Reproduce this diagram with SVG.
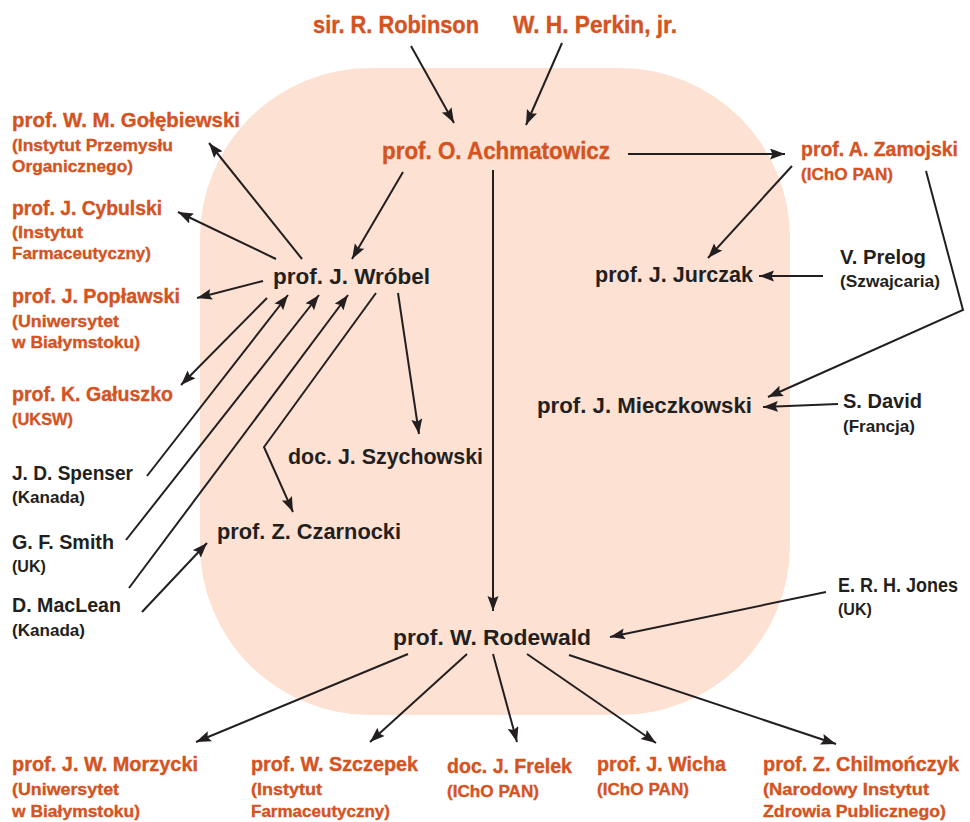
<svg xmlns="http://www.w3.org/2000/svg" width="970" height="822" viewBox="0 0 970 822">
<style>
text{font-family:"Liberation Sans",Arial,sans-serif;font-weight:bold}
.o{fill:#d4531f;stroke:#d4531f;stroke-width:0.35}
.k{fill:#231f20}
.t{font-size:23px}
.m{font-size:22px}
.n{font-size:20px}
.s{font-size:17px}
.c{fill:none;stroke:#231f20;stroke-width:2;marker-end:url(#ah)}
</style>
<defs>
<marker id="ah" markerUnits="userSpaceOnUse" markerWidth="16" markerHeight="12" refX="15" refY="5.5" orient="auto">
<path d="M0,0 L15,5.5 L0,11 L2.5,5.5 z" fill="#231f20"/>
</marker>
</defs>
<rect id="background" x="200" y="68" width="590" height="647" rx="170" ry="170" fill="#fde1d2"/>
<g id="connectors">
<path class="c" d="M411,46 L454,123"/>
<path class="c" d="M562,43 L526,125"/>
<path class="c" d="M628,154 L785,154"/>
<path class="c" d="M493,170 L493,611"/>
<path class="c" d="M403,172 L352,259"/>
<path class="c" d="M792,166 L708,258"/>
<path class="c" d="M926,171 L963,310 L768,397"/>
<path class="c" d="M823,276 L759,276"/>
<path class="c" d="M838,404 L763,407"/>
<path class="c" d="M826,592 L610,637"/>
<path class="c" d="M302,259 L209,143"/>
<path class="c" d="M276,259 L178,212"/>
<path class="c" d="M263,281 L197,298"/>
<path class="c" d="M267,298 L181,385"/>
<path class="c" d="M147,476 L288,295"/>
<path class="c" d="M126,540 L319,295"/>
<path class="c" d="M129,588 L348,295"/>
<path class="c" d="M376,293 L264,447 L293,512"/>
<path class="c" d="M398,293 L419,434"/>
<path class="c" d="M142,612 L207,543"/>
<path class="c" d="M408,654 L196,742"/>
<path class="c" d="M467,654 L370,742"/>
<path class="c" d="M493,654 L517,742"/>
<path class="c" d="M527,654 L656,743"/>
<path class="c" d="M569,655 L836,744"/>
</g>
<g id="robinson"><text class="o t" x="313" y="33" textLength="166" lengthAdjust="spacingAndGlyphs">sir. R. Robinson</text></g>
<g id="perkin"><text class="o t" x="513" y="33" textLength="164" lengthAdjust="spacingAndGlyphs">W. H. Perkin, jr.</text></g>
<g id="achmatowicz"><text class="o t" x="382" y="159" textLength="228" lengthAdjust="spacingAndGlyphs">prof. O. Achmatowicz</text></g>
<g id="golebiewski">
<text class="o n" x="12" y="127" textLength="228" lengthAdjust="spacingAndGlyphs">prof. W. M. Gołębiewski</text>
<text class="o s" x="12" y="151" textLength="161" lengthAdjust="spacingAndGlyphs">(Instytut Przemysłu</text>
<text class="o s" x="12" y="172" textLength="121" lengthAdjust="spacingAndGlyphs">Organicznego)</text>
</g>
<g id="cybulski">
<text class="o n" x="12" y="215" textLength="150" lengthAdjust="spacingAndGlyphs">prof. J. Cybulski</text>
<text class="o s" x="12" y="238" textLength="71" lengthAdjust="spacingAndGlyphs">(Instytut</text>
<text class="o s" x="12" y="259" textLength="139" lengthAdjust="spacingAndGlyphs">Farmaceutyczny)</text>
</g>
<g id="poplawski">
<text class="o n" x="12" y="303" textLength="168" lengthAdjust="spacingAndGlyphs">prof. J. Popławski</text>
<text class="o s" x="12" y="327" textLength="107" lengthAdjust="spacingAndGlyphs">(Uniwersytet</text>
<text class="o s" x="12" y="348" textLength="128" lengthAdjust="spacingAndGlyphs">w Białymstoku)</text>
</g>
<g id="galuszko">
<text class="o n" x="12" y="401" textLength="161" lengthAdjust="spacingAndGlyphs">prof. K. Gałuszko</text>
<text class="o s" x="12" y="425" textLength="61" lengthAdjust="spacingAndGlyphs">(UKSW)</text>
</g>
<g id="zamojski">
<text class="o n" x="801" y="156" textLength="157" lengthAdjust="spacingAndGlyphs">prof. A. Zamojski</text>
<text class="o s" x="801" y="180" textLength="92" lengthAdjust="spacingAndGlyphs">(IChO PAN)</text>
</g>
<g id="morzycki">
<text class="o n" x="12" y="771" textLength="186" lengthAdjust="spacingAndGlyphs">prof. J. W. Morzycki</text>
<text class="o s" x="12" y="795" textLength="107" lengthAdjust="spacingAndGlyphs">(Uniwersytet</text>
<text class="o s" x="12" y="817" textLength="128" lengthAdjust="spacingAndGlyphs">w Białymstoku)</text>
</g>
<g id="szczepek">
<text class="o n" x="251" y="771" textLength="167" lengthAdjust="spacingAndGlyphs">prof. W. Szczepek</text>
<text class="o s" x="251" y="795" textLength="71" lengthAdjust="spacingAndGlyphs">(Instytut</text>
<text class="o s" x="251" y="817" textLength="139" lengthAdjust="spacingAndGlyphs">Farmaceutyczny)</text>
</g>
<g id="frelek">
<text class="o n" x="447" y="773" textLength="125" lengthAdjust="spacingAndGlyphs">doc. J. Frelek</text>
<text class="o s" x="447" y="797" textLength="92" lengthAdjust="spacingAndGlyphs">(IChO PAN)</text>
</g>
<g id="wicha">
<text class="o n" x="597" y="771" textLength="129" lengthAdjust="spacingAndGlyphs">prof. J. Wicha</text>
<text class="o s" x="597" y="795" textLength="92" lengthAdjust="spacingAndGlyphs">(IChO PAN)</text>
</g>
<g id="chilmonczyk">
<text class="o n" x="763" y="771" textLength="196" lengthAdjust="spacingAndGlyphs">prof. Z. Chilmończyk</text>
<text class="o s" x="763" y="795" textLength="166" lengthAdjust="spacingAndGlyphs">(Narodowy Instytut</text>
<text class="o s" x="763" y="817" textLength="183" lengthAdjust="spacingAndGlyphs">Zdrowia Publicznego)</text>
</g>
<g id="wrobel"><text class="k m" x="273" y="284" textLength="157" lengthAdjust="spacingAndGlyphs">prof. J. Wróbel</text></g>
<g id="szychowski"><text class="k m" x="288" y="464" textLength="195" lengthAdjust="spacingAndGlyphs">doc. J. Szychowski</text></g>
<g id="czarnocki"><text class="k m" x="217" y="539" textLength="184" lengthAdjust="spacingAndGlyphs">prof. Z. Czarnocki</text></g>
<g id="jurczak"><text class="k m" x="595" y="282" textLength="158" lengthAdjust="spacingAndGlyphs">prof. J. Jurczak</text></g>
<g id="mieczkowski"><text class="k m" x="537" y="413" textLength="215" lengthAdjust="spacingAndGlyphs">prof. J. Mieczkowski</text></g>
<g id="rodewald"><text class="k m" x="393" y="645" textLength="198" lengthAdjust="spacingAndGlyphs">prof. W. Rodewald</text></g>
<g id="prelog">
<text class="k n" x="840" y="264" textLength="86" lengthAdjust="spacingAndGlyphs">V. Prelog</text>
<text class="k s" x="840" y="287" textLength="100" lengthAdjust="spacingAndGlyphs">(Szwajcaria)</text>
</g>
<g id="david">
<text class="k n" x="843" y="408" textLength="79" lengthAdjust="spacingAndGlyphs">S. David</text>
<text class="k s" x="843" y="432" textLength="72" lengthAdjust="spacingAndGlyphs">(Francja)</text>
</g>
<g id="jones">
<text class="k n" x="838" y="592" textLength="120" lengthAdjust="spacingAndGlyphs">E. R. H. Jones</text>
<text class="k s" x="838" y="615" textLength="34" lengthAdjust="spacingAndGlyphs">(UK)</text>
</g>
<g id="spenser">
<text class="k n" x="12" y="480" textLength="121" lengthAdjust="spacingAndGlyphs">J. D. Spenser</text>
<text class="k s" x="12" y="503" textLength="73" lengthAdjust="spacingAndGlyphs">(Kanada)</text>
</g>
<g id="smith">
<text class="k n" x="12" y="549" textLength="102" lengthAdjust="spacingAndGlyphs">G. F. Smith</text>
<text class="k s" x="12" y="572" textLength="34" lengthAdjust="spacingAndGlyphs">(UK)</text>
</g>
<g id="maclean">
<text class="k n" x="12" y="612" textLength="109" lengthAdjust="spacingAndGlyphs">D. MacLean</text>
<text class="k s" x="12" y="636" textLength="73" lengthAdjust="spacingAndGlyphs">(Kanada)</text>
</g>
</svg>
